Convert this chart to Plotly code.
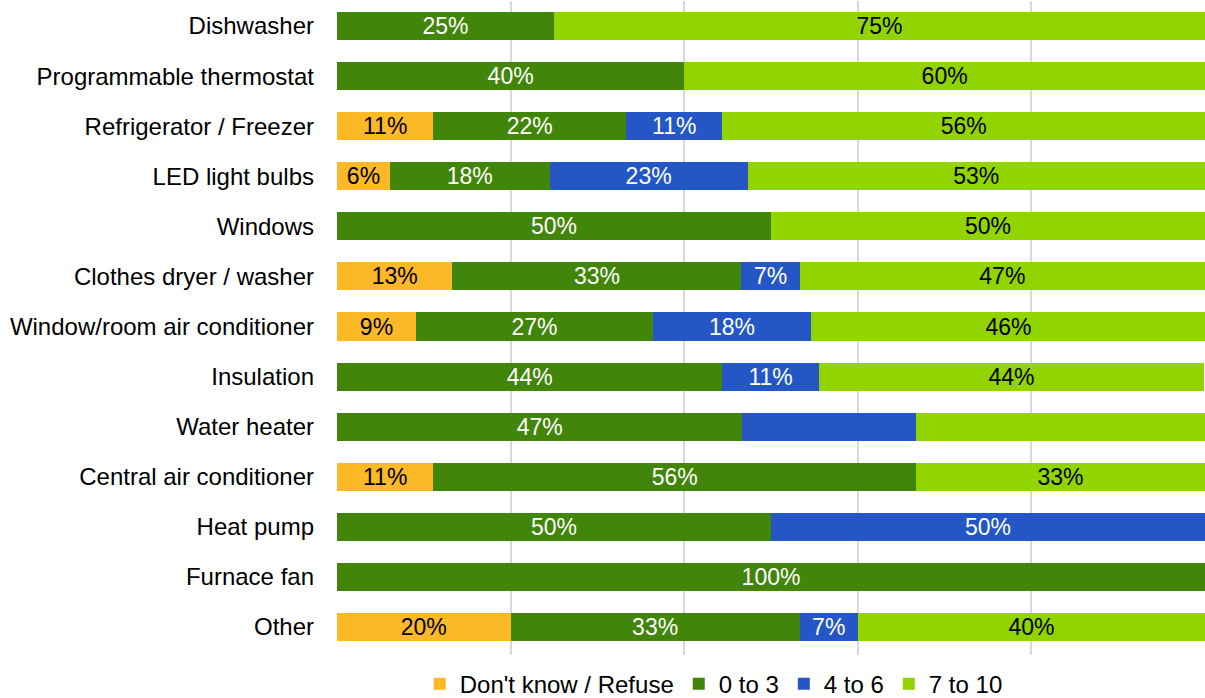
import plotly.graph_objects as go

categories = ["Dishwasher", "Programmable thermostat", "Refrigerator / Freezer",
              "LED light bulbs", "Windows", "Clothes dryer / washer",
              "Window/room air conditioner", "Insulation", "Water heater",
              "Central air conditioner", "Heat pump", "Furnace fan", "Other"]

dont_know = [0, 0, 11.1, 6.1, 0, 13.3, 9.1, 0, 0, 11.1, 0, 0, 20.0]
zero_to_3 = [25.0, 40.0, 22.2, 18.4, 50.0, 33.3, 27.3, 44.4, 46.7, 55.6, 50.0, 100.0, 33.3]
four_to_6 = [0, 0, 11.1, 22.8, 0, 6.7, 18.2, 11.1, 20.0, 0, 50.0, 0, 6.7]
seven_to_10 = [75.0, 60.0, 55.6, 52.7, 50.0, 46.7, 45.5, 44.4, 33.3, 33.3, 0, 0, 40.0]

# Segments whose labels are not shown in the original chart
hidden_labels = {("4 to 6", "Water heater"), ("7 to 10", "Water heater")}

series = [
    ("Don't know / Refuse", dont_know, "#FBB827", "#000000"),
    ("0 to 3", zero_to_3, "#41850A", "#FFFFFF"),
    ("4 to 6", four_to_6, "#2457C5", "#FFFFFF"),
    ("7 to 10", seven_to_10, "#92D400", "#000000"),
]

FONT = "Liberation Sans, Arial, sans-serif"

fig = go.Figure()
for name, vals, color, tcolor in series:
    labels = []
    for c, v in zip(categories, vals):
        if v and (name, c) not in hidden_labels:
            labels.append(f"{v:.0f}%")
        else:
            labels.append("")
    fig.add_trace(go.Bar(
        y=categories, x=vals, name=name, orientation="h",
        marker=dict(color=color, line=dict(width=0)),
        text=labels, textposition="inside", insidetextanchor="middle",
        textfont=dict(family=FONT, size=23, color=tcolor),
        constraintext="none", hoverinfo="skip",
    ))

fig.update_layout(
    barmode="stack",
    bargap=0.44,
    autosize=False,
    width=1205, height=698,
    margin=dict(l=337, r=0, t=1, b=43, autoexpand=False),
    plot_bgcolor="white", paper_bgcolor="white",
    font=dict(family=FONT, size=24, color="#000000"),
    xaxis=dict(range=[0, 100], dtick=20, showgrid=True, gridcolor="#D9D9D9",
               gridwidth=2, showticklabels=False, zeroline=False, showline=False,
               fixedrange=True),
    yaxis=dict(categoryorder="array", categoryarray=categories,
               range=[12.56, -0.5],
               showgrid=False, zeroline=False, showline=False, ticks="",
               ticklabelstandoff=22, tickfont=dict(size=24)),
    legend=dict(orientation="h", x=0.434, xanchor="center",
                yref="container", y=0.02, yanchor="middle",
                font=dict(size=24), traceorder="normal", itemwidth=30),
)

fig.write_html(
    "out.html",
    config={"responsive": False, "displayModeBar": False},
    post_script=("document.documentElement.style.overflow='hidden';"
                 "document.body.style.margin='0';document.body.style.overflow='hidden';"),
)
